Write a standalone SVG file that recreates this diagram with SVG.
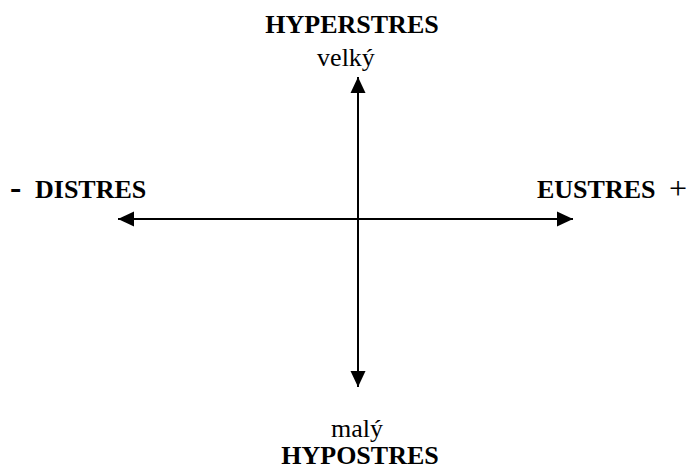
<svg xmlns="http://www.w3.org/2000/svg" width="694" height="470" viewBox="0 0 694 470">
<style>
.b{font-family:"Liberation Serif","Times New Roman",serif;font-weight:bold;font-size:26px;fill:#000}
.r{font-family:"Liberation Serif","Times New Roman",serif;font-size:26px;fill:#000}
.ax{stroke:#000;stroke-width:2;fill:none;marker-end:url(#ah)}
</style>
<defs>
<marker id="ah" markerUnits="userSpaceOnUse" markerWidth="17" markerHeight="17" viewBox="0 0 17 17" refX="16" refY="8.5" orient="auto">
<path d="M0,1 L16,8.5 L0,16 Z" fill="#000"/>
</marker>
</defs>
<g id="connectors">
<line class="ax" x1="358" y1="219" x2="358" y2="77"/>
<line class="ax" x1="358" y1="219" x2="358" y2="387"/>
<line class="ax" x1="358" y1="219" x2="118" y2="219"/>
<line class="ax" x1="358" y1="219" x2="573" y2="219"/>
</g>
<g id="hyperstres">
<text class="b" x="352" y="33" text-anchor="middle">HYPERSTRES</text>
<text class="r" x="346" y="66" text-anchor="middle">velký</text>
</g>
<g id="hypostres">
<text class="r" x="357" y="437" text-anchor="middle">malý</text>
<text class="b" x="360" y="464" text-anchor="middle">HYPOSTRES</text>
</g>
<g id="distres">
<text class="b" x="10" y="199"><tspan font-size="34">-</tspan><tspan x="35" y="198">DISTRES</tspan></text>
</g>
<g id="eustres">
<text class="b" x="537" y="198">EUSTRES<tspan x="669" y="199" font-weight="normal" font-size="32">+</tspan></text>
</g>
</svg>
